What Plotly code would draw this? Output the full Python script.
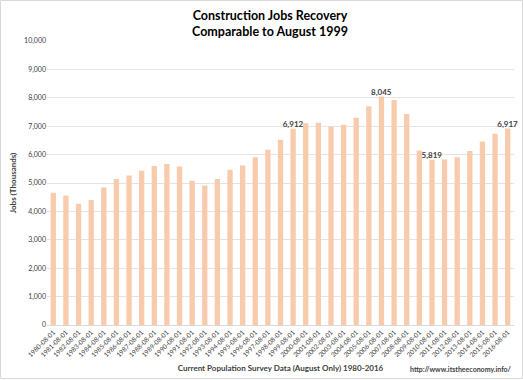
import plotly.graph_objects as go

years = list(range(1980, 2017))
categories = [f"{y}-08-01" for y in years]
jobs = [4660, 4560, 4270, 4400, 4840, 5140, 5260, 5430, 5600, 5670,
        5580, 5080, 4910, 5140, 5470, 5620, 5910, 6170, 6520, 6912,
        7100, 7120, 6990, 7050, 7300, 7700, 8045, 7920, 7430, 6140,
        5819, 5830, 5910, 6130, 6460, 6730, 6917]
labeled = {"1999-08-01", "2006-08-01", "2010-08-01", "2016-08-01"}
labels = [f"<b>{v:,}</b>" if c in labeled else "" for c, v in zip(categories, jobs)]

W, H = 523, 380
L, R, T, B = 47, 9, 41, 55
pw, ph = W - L - R, H - T - B

FONT = "Lato, Carlito, Calibri, sans-serif"

fig = go.Figure(go.Bar(
    x=categories, y=jobs, text=labels, textposition="outside",
    constraintext="none",
    textfont=dict(size=8, color="#404040", family=FONT),
    marker=dict(color="#F8CBAD", line=dict(width=0)),
    cliponaxis=False, hoverinfo="x+y",
))

fig.update_layout(
    width=W, height=H,
    margin=dict(l=L, r=R, t=T, b=B, autoexpand=False),
    paper_bgcolor="white", plot_bgcolor="white",
    bargap=0.58,
    font=dict(family=FONT, color="#404040"),
    title=dict(text="<b>Construction Jobs Recovery<br>Comparable to August 1999</b>",
               x=(270 - L) / pw, xref="paper", xanchor="center", y=1 - 20 / H, yanchor="middle",
               font=dict(size=12.5, color="#000000", family=FONT)),
    showlegend=False,
)
fig.update_yaxes(range=[0, 10000], dtick=1000, tickformat=",", automargin=False,
                 showgrid=True, gridcolor="#E4E4E4", gridwidth=1,
                 zeroline=False, showline=False, ticks="",
                 tickfont=dict(size=7, color="#404040"),
                 title=dict(text="<b>Jobs (Thousands)</b>", font=dict(size=8, color="#404040"), standoff=6))
fig.update_xaxes(type="category", tickangle=-45, automargin=False,
                 tickfont=dict(size=6.5, color="#404040"),
                 showline=True, linecolor="#D9D9D9", linewidth=1, ticks="",
                 title=dict(text="<b>Current Population Survey Data (August Only) 1980-2016</b>",
                            font=dict(size=8, color="#404040"), standoff=8))

fig.add_annotation(text="<b>http://www.itstheeconomy.info/</b>", xref="paper", yref="paper",
                   x=1.0, y=(325 - 369) / ph, xanchor="right", yanchor="middle", showarrow=False,
                   font=dict(size=7, color="#404040", family=FONT))

fig.add_shape(type="rect", xref="paper", yref="paper",
              x0=(0.5 - L) / pw, x1=(522.5 - L) / pw,
              y0=(325 - 378.5) / ph, y1=(325 - 0.5) / ph,
              line=dict(color="#D9D9D9", width=1), layer="below")

fig.write_html("out.html", config={"displayModeBar": False},
               post_script="document.body.style.margin='0';document.body.style.overflow='hidden';")
